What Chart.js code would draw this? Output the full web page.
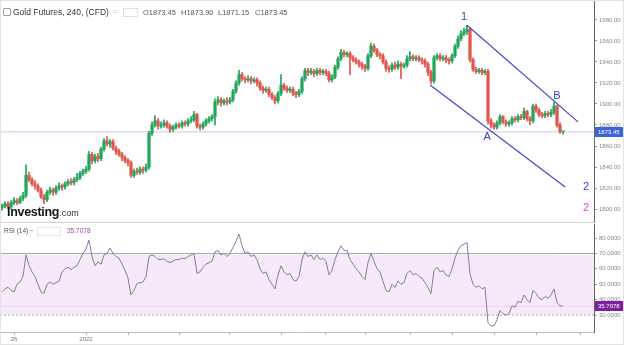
<!DOCTYPE html>
<html>
<head>
<meta charset="utf-8">
<script src="https://cdn.jsdelivr.net/npm/chart.js@4.4.0/dist/chart.umd.min.js"></script>
<style>
  html, body { margin: 0; padding: 0; background: #fff; }
  #wrap { position: relative; width: 624px; height: 345px; overflow: hidden; font-family: "Liberation Sans", Arial, sans-serif; }
  #wrap canvas { position: absolute; left: 0; }
  #main { top: 0; }
  #rsi { top: 223px; }
  .txt { position: absolute; white-space: nowrap; line-height: 1; }
  .ohlc { position: absolute; top: 9px; font-size: 7.5px; color: #555; white-space: nowrap; line-height: 1; }
  .frame { position: absolute; left: 0; top: 0; width: 622px; height: 343px; border: 1px solid #e2e2e2; pointer-events: none; }
</style>
</head>
<body>
<div id="wrap">
  <canvas id="main" width="624" height="223"></canvas>
  <canvas id="rsi" width="624" height="122"></canvas>

  <span class="txt" style="left:3px;top:8px;width:6px;height:6px;border:1px solid #a0a0a0;border-radius:1px;"></span>
  <span class="txt" style="left:13px;top:8px;font-size:8.5px;color:#333;">Gold Futures, 240, (CFD)</span>
  <span class="txt" style="left:113px;top:8px;font-size:8px;color:#bbb;">=</span>
  <span class="txt" style="left:123px;top:8px;width:13px;height:7px;border:1px solid #e0e0e0;"></span>
  <span class="ohlc" style="left:143px;">O1873.45</span>
  <span class="ohlc" style="left:181px;">H1873.90</span>
  <span class="ohlc" style="left:218px;">L1871.15</span>
  <span class="ohlc" style="left:255px;">C1873.45</span>

  <span class="txt" style="left:7px;top:203px;color:#151515;"><b style="font-size:12.5px;letter-spacing:-0.3px;">Investing</b><span style="font-size:9px;color:#333;">.com</span></span>

  <span class="txt" style="left:4px;top:228px;font-size:6.5px;color:#555;">RSI (14) &minus;</span>
  <span class="txt" style="left:37px;top:227px;width:22px;height:7px;border:1px solid #e4e4e4;"></span>
  <span class="txt" style="left:67px;top:228px;font-size:6.5px;color:#a040b0;">35.7078</span>

  <div class="frame"></div>
</div>
<script>
// candle data, one 240-minute bar per index
const open = [
  1801,1803,1805,1802,1806,1808,1806,1810,1813,1832,
  1828,1824,1822,1818,1812,1809,1816,1818,1816,1820,
  1822,1821,1824,1826,1825,1828,1830,1834,1836,1838,
  1852,1846,1850,1848,1857,1865,1862,1864,1858,1855,
  1852,1849,1846,1844,1832,1836,1835,1838,1837,1840,
  1872,1880,1884,1879,1880,1882,1879,1876,1878,1880,
  1879,1882,1881,1884,1885,1890,1879,1878,1881,1884,
  1886,1888,1902,1904,1901,1903,1902,1904,1912,1920,
  1928,1924,1923,1924,1922,1923,1920,1915,1913,1914,
  1909,1906,1903,1910,1918,1915,1913,1914,1910,1909,
  1912,1924,1932,1930,1931,1929,1932,1930,1931,1929,
  1923,1926,1935,1943,1949,1947,1948,1944,1942,1940,
  1938,1936,1934,1946,1955,1951,1947,1946,1940,1934,
  1933,1937,1935,1938,1936,1937,1943,1945,1943,1944,
  1942,1941,1938,1930,1922,1944,1946,1943,1944,1942,
  1941,1946,1955,1962,1967,1969,1971,1942,1933,1931,
  1932,1930,1931,1884,1880,1878,1882,1888,1883,1881,
  1882,1886,1885,1888,1887,1893,1886,1884,1898,1894,
  1890,1889,1891,1890,1892,1898,1880,1873.45
];
const high = [
  1805,1807,1807,1808,1811,1810,1812,1816,1842,1835,
  1830,1827,1824,1820,1814,1818,1821,1820,1822,1825,
  1824,1826,1828,1829,1830,1834,1836,1838,1841,1855,
  1854,1852,1853,1859,1867,1869,1866,1866,1860,1857,
  1854,1851,1848,1846,1838,1839,1840,1840,1843,1874,
  1883,1889,1886,1883,1885,1884,1881,1880,1882,1882,
  1884,1884,1886,1888,1893,1891,1881,1883,1886,1888,
  1890,1905,1907,1906,1905,1906,1906,1914,1922,1932,
  1930,1926,1927,1926,1925,1925,1922,1917,1916,1916,
  1911,1908,1912,1928,1920,1917,1916,1916,1912,1914,
  1926,1934,1934,1934,1933,1934,1934,1933,1933,1931,
  1928,1937,1945,1952,1951,1950,1950,1946,1944,1942,
  1940,1938,1948,1958,1957,1953,1949,1948,1942,1936,
  1939,1940,1941,1940,1939,1946,1950,1947,1946,1946,
  1944,1943,1940,1932,1946,1948,1948,1946,1946,1944,
  1948,1957,1965,1970,1972,1975,1973,1944,1935,1934,
  1934,1933,1933,1886,1882,1884,1890,1889,1885,1884,
  1888,1888,1890,1890,1896,1894,1888,1900,1900,1896,
  1892,1893,1893,1895,1902,1899,1882,1873.9
];
const low = [
  1799,1801,1800,1800,1804,1804,1805,1808,1811,1826,
  1822,1819,1816,1810,1805,1807,1814,1813,1814,1818,
  1818,1819,1822,1823,1823,1826,1828,1832,1834,1836,
  1843,1844,1845,1846,1855,1860,1859,1856,1852,1850,
  1846,1844,1841,1830,1830,1833,1833,1834,1835,1838,
  1870,1878,1876,1877,1878,1877,1873,1874,1876,1877,
  1877,1879,1879,1882,1883,1877,1875,1876,1879,1882,
  1884,1880,1899,1898,1899,1899,1900,1902,1910,1918,
  1922,1920,1921,1919,1920,1917,1913,1910,1911,1907,
  1904,1900,1901,1908,1913,1911,1911,1908,1906,1907,
  1910,1922,1927,1928,1926,1927,1928,1928,1927,1921,
  1921,1924,1933,1941,1945,1945,1928,1940,1938,1935,
  1933,1931,1932,1944,1949,1945,1943,1938,1931,1930,
  1931,1933,1933,1924,1934,1935,1941,1941,1941,1940,
  1938,1935,1927,1919,1920,1942,1941,1941,1939,1938,
  1939,1944,1953,1960,1965,1966,1940,1931,1929,1929,
  1928,1928,1881,1877,1876,1876,1880,1881,1879,1879,
  1880,1883,1883,1885,1885,1884,1880,1882,1892,1888,
  1887,1887,1888,1888,1890,1878,1872,1871.15
];
const close = [
  1803,1805,1802,1806,1808,1806,1810,1813,1832,1828,
  1824,1822,1818,1812,1809,1816,1818,1816,1820,1822,
  1821,1824,1826,1825,1828,1830,1834,1836,1838,1852,
  1846,1850,1848,1857,1865,1862,1864,1858,1855,1852,
  1849,1846,1844,1832,1836,1835,1838,1837,1840,1872,
  1880,1884,1879,1880,1882,1879,1876,1878,1880,1879,
  1882,1881,1884,1885,1890,1879,1878,1881,1884,1886,
  1888,1902,1904,1901,1903,1902,1904,1912,1920,1928,
  1924,1923,1924,1922,1923,1920,1915,1913,1914,1909,
  1906,1903,1910,1918,1915,1913,1914,1910,1909,1912,
  1924,1932,1930,1931,1929,1932,1930,1931,1929,1923,
  1926,1935,1943,1949,1947,1948,1944,1942,1940,1938,
  1936,1934,1946,1955,1951,1947,1946,1940,1934,1933,
  1937,1935,1938,1936,1937,1943,1945,1943,1944,1942,
  1941,1938,1930,1922,1944,1946,1943,1944,1942,1941,
  1946,1955,1962,1967,1969,1971,1942,1933,1931,1932,
  1930,1931,1884,1880,1878,1882,1888,1883,1881,1882,
  1886,1885,1888,1887,1893,1886,1884,1898,1894,1890,
  1889,1891,1890,1892,1898,1880,1874,1873.45
];
// RSI(14) per bar
const rsi = [
  45,47,48,46,45,50,51.5,55,69,62,
  58,55,50,45,44,50,51.5,50,51,52,
  58,60,61,59.5,61,62,66,70,73,78.7,
  68,62,64.5,63,69,70,73.5,70,68,67,
  63,59,54,43,46,50.5,51,51.5,55,68,
  69,68,66,66,66.5,65,64,65,66,66,
  67,66.5,68,69,70,57,58,61,63,64,
  65,71,72,69,70,68,70,74,78,82.5,
  75,70,71,68,69,66,60,57,58,53,
  50,47,56,62,58,56,57,53,52,55,
  66,71,68,69,66,69,66,67,65,56,
  59,66,71,75,72,72,66,63,60,58,
  55,53,64,70,65,60,58,52,46,45,
  50,48,52,50,51,57,59,56,57,55,
  54,51,48,44,59,61,58,59,56,55,
  60,67,72,75,76,77,57,50,48,49,
  47,48,25,23,23,27,33,31,30,31,
  36,35,39,38,43,40,38,46,44,41,
  40,42,41,43,47,38,36,35.7078
];

const priceTicks = [1800, 1820, 1840, 1860, 1880, 1900, 1920, 1940, 1960, 1980];
const rsiTicks = [30, 40, 50, 60, 70, 80];
const rsiBands = [70, 30];
const timeTickIdx = [4, 28, 42.3, 59, 75.7, 93, 107.7, 121.3, 136, 150, 164, 178, 192.7];
const timeTickLabels = ['26', '2022', '', '', '', '', '', '', '', '', '', '', ''];

// hand drawn wave channel and labels (bar index, price)
const channelUpper = [{ x: 155, y: 1975 }, { x: 192, y: 1883 }];
const channelLower = [{ x: 142.7, y: 1918 }, { x: 187.7, y: 1821 }];
const waveLabels = [
  { text: '1', x: 154, y: 1983, color: '#3b3fc4' },
  { text: 'A', x: 161.7, y: 1868.5, color: '#3b3fc4' },
  { text: 'B', x: 185, y: 1907.5, color: '#3b3fc4' },
  { text: '2', x: 194.7, y: 1821, color: '#3b3fc4' },
  { text: '2', x: 194.7, y: 1801, color: '#e040e8' }
];

const X_MIN = -0.67, X_MAX = 197.33;
const UP = '#22a65b', DOWN = '#e0554c';
const FONT = '"Liberation Sans", Arial, sans-serif';

const idx = close.map((_, i) => i);
const candleColor = idx.map(i => close[i] >= open[i] ? UP : DOWN);
const lastPrice = close[close.length - 1];
const lastRsi = rsi[rsi.length - 1];

function fixedAxis(width) {
  return (s) => { s.width = width; s.paddingTop = 0; s.paddingBottom = 0; };
}

// value box on the right axis
function valueBox(id, value, text, bg) {
  return {
    id: id,
    afterDraw(chart) {
      const { ctx, scales: { y }, chartArea } = chart;
      const py = Math.round(y.getPixelForValue(value));
      ctx.save();
      ctx.fillStyle = bg;
      ctx.fillRect(chartArea.right + 1, py - 5, 29, 10);
      ctx.fillStyle = '#fff';
      ctx.font = '6px ' + FONT;
      ctx.textBaseline = 'middle';
      ctx.fillText(text, chartArea.right + 4, py + 0.5);
      ctx.restore();
    }
  };
}

// wave labels + pane separator
const waveText = {
  id: 'waveText',
  afterDatasetsDraw(chart) {
    const { ctx, scales: { x, y }, chartArea } = chart;
    ctx.save();
    ctx.strokeStyle = '#d4d4d4';
    ctx.lineWidth = 1;
    ctx.beginPath();
    ctx.moveTo(0, chartArea.bottom - 0.5);
    ctx.lineTo(chartArea.right, chartArea.bottom - 0.5);
    ctx.stroke();
    ctx.font = '11px ' + FONT;
    ctx.textAlign = 'center';
    ctx.textBaseline = 'middle';
    waveLabels.forEach(l => {
      ctx.fillStyle = l.color;
      ctx.fillText(l.text, x.getPixelForValue(l.x), y.getPixelForValue(l.y));
    });
    ctx.restore();
  }
};

new Chart(document.getElementById('main'), {
  type: 'bar',
  data: {
    datasets: [
      {
        type: 'line',
        data: [{ x: X_MIN, y: lastPrice }, { x: X_MAX, y: lastPrice }],
        borderColor: '#c8cbef',
        borderWidth: 1,
        pointRadius: 0,
        order: 5
      },
      {
        data: idx.map(i => ({ x: i, y: [low[i], high[i]] })),
        backgroundColor: candleColor,
        barThickness: 1,
        grouped: false,
        order: 3
      },
      {
        data: idx.map(i => ({ x: i, y: [open[i], close[i]] })),
        backgroundColor: candleColor,
        barThickness: 2.6,
        minBarLength: 1,
        grouped: false,
        order: 2
      },
      {
        type: 'line',
        data: channelUpper,
        borderColor: '#4347c6',
        borderWidth: 1.2,
        pointRadius: 0,
        order: 1
      },
      {
        type: 'line',
        data: channelLower,
        borderColor: '#4347c6',
        borderWidth: 1.2,
        pointRadius: 0,
        order: 1
      }
    ]
  },
  options: {
    responsive: false,
    animation: false,
    layout: { padding: 0 },
    plugins: { legend: { display: false }, tooltip: { enabled: false } },
    scales: {
      x: { type: 'linear', min: X_MIN, max: X_MAX, offset: false, display: false },
      y: {
        position: 'right',
        min: 1786.7,
        max: 1999,
        afterFit: fixedAxis(30),
        afterBuildTicks: s => { s.ticks = priceTicks.map(v => ({ value: v })); },
        ticks: { callback: v => v.toFixed(2), color: '#8a8a8a', font: { size: 6, family: FONT }, padding: 2 },
        grid: { drawOnChartArea: false, tickLength: 3, color: '#999' },
        border: { color: '#666' }
      }
    }
  },
  plugins: [waveText, valueBox('priceBox', lastPrice, lastPrice.toFixed(2), '#3d62dc')]
});

const bandLine = (v, dash, fill) => ({
  data: [{ x: X_MIN, y: v }, { x: X_MAX, y: v }],
  borderColor: '#a8a8a8',
  borderWidth: 1,
  borderDash: dash,
  pointRadius: 0,
  fill: fill,
  backgroundColor: 'rgba(190, 120, 205, 0.15)',
  order: 4
});

new Chart(document.getElementById('rsi'), {
  type: 'line',
  data: {
    datasets: [
      bandLine(rsiBands[0], [], false),
      bandLine(rsiBands[1], [2, 2], '-1'),
      {
        data: [{ x: X_MIN, y: lastRsi }, { x: X_MAX, y: lastRsi }],
        borderColor: '#f2c6ef',
        borderWidth: 1,
        pointRadius: 0,
        order: 3
      },
      {
        data: idx.map(i => ({ x: i, y: rsi[i] })),
        borderColor: '#8f74a6',
        borderWidth: 1,
        pointRadius: 0,
        order: 1
      }
    ]
  },
  options: {
    responsive: false,
    animation: false,
    layout: { padding: { top: 1 } },
    plugins: { legend: { display: false }, tooltip: { enabled: false } },
    scales: {
      x: {
        type: 'linear', min: X_MIN, max: X_MAX, offset: false,
        afterFit: s => { s.height = 13; s.paddingLeft = 0; s.paddingRight = 0; },
        afterBuildTicks: s => { s.ticks = timeTickIdx.map(v => ({ value: v })); },
        ticks: { callback: (v, k) => timeTickLabels[k], color: '#777', font: { size: 6, family: FONT }, padding: 1, maxRotation: 0, autoSkip: false },
        grid: { drawOnChartArea: false, tickLength: 3, color: '#aaa' },
        border: { color: '#bbb' }
      },
      y: {
        position: 'right',
        min: 19,
        max: 89.1,
        afterFit: fixedAxis(30),
        afterBuildTicks: s => { s.ticks = rsiTicks.map(v => ({ value: v })); },
        ticks: { callback: v => v.toFixed(4), color: '#8a8a8a', font: { size: 6, family: FONT }, padding: 2 },
        grid: { drawOnChartArea: false, tickLength: 3, color: '#999' },
        border: { color: '#666' }
      }
    }
  },
  plugins: [valueBox('rsiBox', lastRsi, lastRsi.toFixed(4), '#7d1fa0')]
});
</script>
</body>
</html>
